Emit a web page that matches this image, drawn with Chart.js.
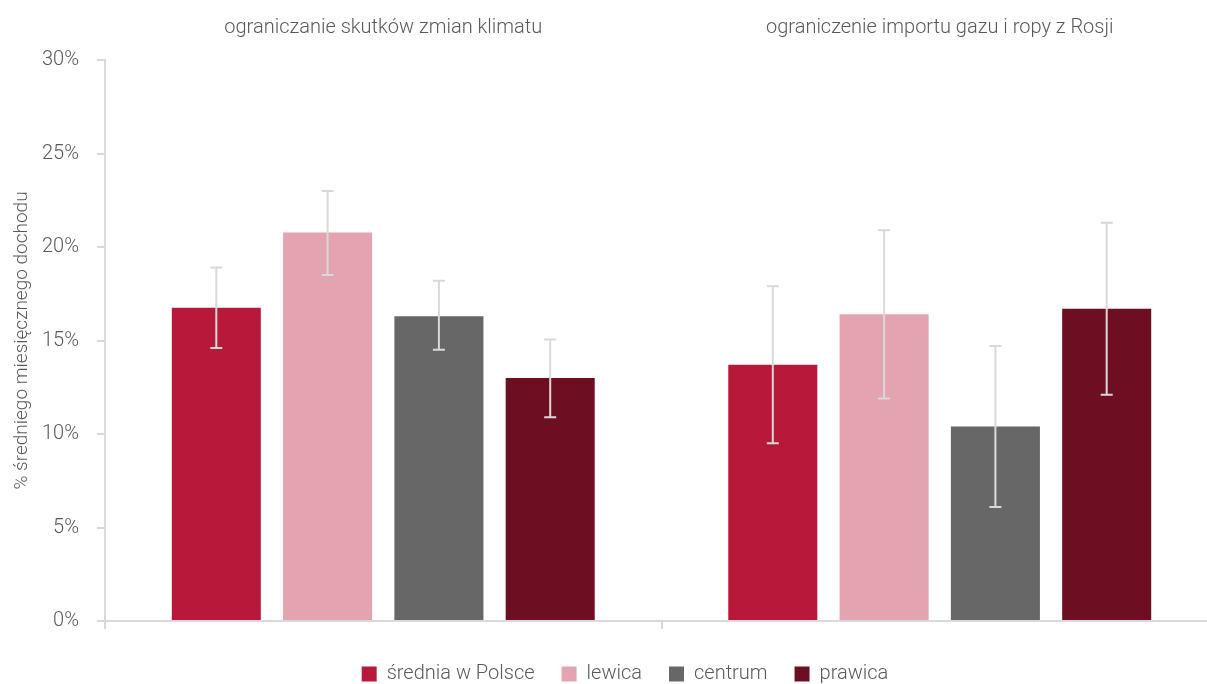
<!DOCTYPE html>
<html>
<head>
<meta charset="utf-8">
<script src="https://cdn.jsdelivr.net/npm/chart.js@4.4.0/dist/chart.umd.min.js"></script>
<style>
  html, body { margin: 0; padding: 0; background: #fff; overflow: hidden; }
  #wrap { width: 1218px; height: 684px; }
</style>
</head>
<body>
<div id="wrap"><canvas id="chart"></canvas></div>
<script>
// Categories and series (values in % of average monthly income)
const categories = ['ograniczanie skutków zmian klimatu', 'ograniczenie importu gazu i ropy z Rosji'];
const seriesNames = ['średnia w Polsce', 'lewica', 'centrum', 'prawica'];

const sredniaValues = [16.75, 13.7];
const sredniaLow = [14.6, 9.5];
const sredniaHigh = [18.9, 17.9];

const lewicaValues = [20.77, 16.4];
const lewicaLow = [18.5, 11.9];
const lewicaHigh = [23.0, 20.9];

const centrumValues = [16.3, 10.4];
const centrumLow = [14.5, 6.1];
const centrumHigh = [18.2, 14.7];

const prawicaValues = [13.0, 16.7];
const prawicaLow = [10.9, 12.1];
const prawicaHigh = [15.05, 21.3];

const yTicks = [0, 5, 10, 15, 20, 25, 30];

const colors = ['#b8183a', '#e3a3b0', '#676767', '#6e0e22'];
const axisGrey = '#d9d9d9';
const textGrey = '#595959';
const fontFamily = 'Roboto, "Noto Sans", sans-serif';

const seriesValues = [sredniaValues, lewicaValues, centrumValues, prawicaValues];
const seriesLow = [sredniaLow, lewicaLow, centrumLow, prawicaLow];
const seriesHigh = [sredniaHigh, lewicaHigh, centrumHigh, prawicaHigh];

// Draws the light grey error whiskers on top of each bar
const errorBars = {
  id: 'errorBars',
  afterDatasetsDraw(chart) {
    const ctx = chart.ctx;
    const yScale = chart.scales.y;
    ctx.save();
    ctx.strokeStyle = axisGrey;
    ctx.lineWidth = 2;
    chart.data.datasets.forEach((ds, i) => {
      const meta = chart.getDatasetMeta(i);
      meta.data.forEach((bar, j) => {
        const top = yScale.getPixelForValue(ds.high[j]);
        const bottom = yScale.getPixelForValue(ds.low[j]);
        const cap = 6;
        ctx.beginPath();
        ctx.moveTo(bar.x, top);
        ctx.lineTo(bar.x, bottom);
        ctx.moveTo(bar.x - cap, top);
        ctx.lineTo(bar.x + cap, top);
        ctx.moveTo(bar.x - cap, bottom);
        ctx.lineTo(bar.x + cap, bottom);
        ctx.stroke();
      });
    });
    ctx.restore();
  }
};

const datasets = seriesNames.map((name, i) => ({
  label: name,
  data: seriesValues[i],
  low: seriesLow[i],
  high: seriesHigh[i],
  backgroundColor: colors[i],
  borderWidth: 0,
  categoryPercentage: 0.8,
  barPercentage: 0.8
}));

new Chart(document.getElementById('chart'), {
  type: 'bar',
  data: { labels: categories, datasets: datasets },
  plugins: [errorBars],
  options: {
    responsive: true,
    maintainAspectRatio: false,
    animation: false,
    layout: { padding: { top: 0, right: 0, left: 32, bottom: -10 } },
    plugins: {
      legend: {
        position: 'bottom',
        labels: {
          boxWidth: 15,
          boxHeight: 15,
          padding: 27,
          color: textGrey,
          font: { family: fontFamily, size: 20, weight: '300' }
        }
      },
      tooltip: { enabled: false }
    },
    scales: {
      x: {
        position: 'bottom',
        border: { color: axisGrey, width: 2 },
        grid: {
          offset: true,
          drawOnChartArea: false,
          drawTicks: true,
          tickLength: 8,
          color: axisGrey,
          lineWidth: 2
        },
        ticks: { display: false },
        afterFit(scale) { scale.height += 8; }
      },
      xTop: {
        type: 'category',
        position: 'top',
        border: { display: false },
        grid: { display: false, drawTicks: false },
        ticks: {
          color: textGrey,
          padding: 20,
          font: { family: fontFamily, size: 20, weight: '300' }
        },
        afterFit(scale) { scale.height = 60; }
      },
      y: {
        min: 0,
        max: 30,
        afterBuildTicks(scale) {
          scale.ticks = yTicks.map(v => ({ value: v }));
        },
        afterFit(scale) { scale.width = 73; },
        border: { color: axisGrey, width: 2 },
        grid: {
          drawOnChartArea: false,
          tickLength: 8,
          color: axisGrey,
          lineWidth: 2
        },
        ticks: {
          color: textGrey,
          padding: 18,
          font: { family: fontFamily, size: 20, weight: '300' },
          callback: v => v + '%'
        },
        title: {
          display: true,
          text: '% średniego miesięcznego dochodu',
          color: textGrey,
          padding: { top: -21, bottom: 0 },
          font: { family: fontFamily, size: 19, weight: '300' }
        }
      }
    }
  }
});
</script>
</body>
</html>
